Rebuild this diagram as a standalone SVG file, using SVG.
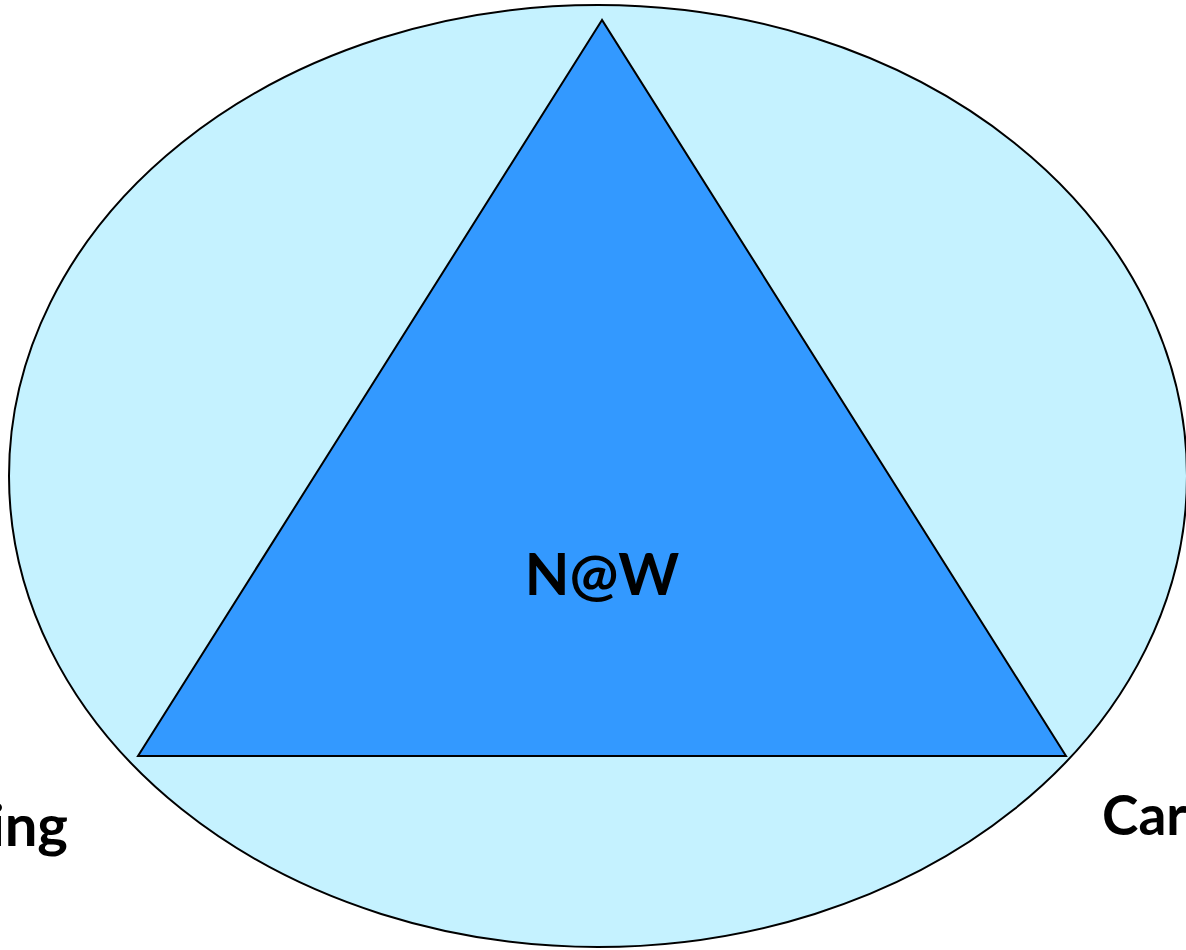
<svg xmlns="http://www.w3.org/2000/svg" width="1186" height="950" viewBox="0 0 1186 950">
<style>
.lbl{font-family:Lato,"Open Sans","Liberation Sans",sans-serif;font-weight:bold;font-size:55px;fill:#000}
.big{font-size:58px}
</style>
<rect width="1186" height="950" fill="#fff"/>
<g id="ellipse"><ellipse cx="598" cy="476" rx="589" ry="471" fill="#C5F2FF" stroke="#000" stroke-width="2"/></g>
<g id="triangle"><polygon points="602,20 138,756 1066,756" fill="#3399FF" stroke="#000" stroke-width="2" stroke-linejoin="miter"/>
<text class="lbl big" x="602" y="595" text-anchor="middle">N@W</text></g>
<g id="left-label"><text class="lbl big" x="68" y="846" text-anchor="end">ing</text></g>
<g id="right-label"><text class="lbl" x="1102" y="835">Car</text></g>
<g id="connectors"/>
</svg>
